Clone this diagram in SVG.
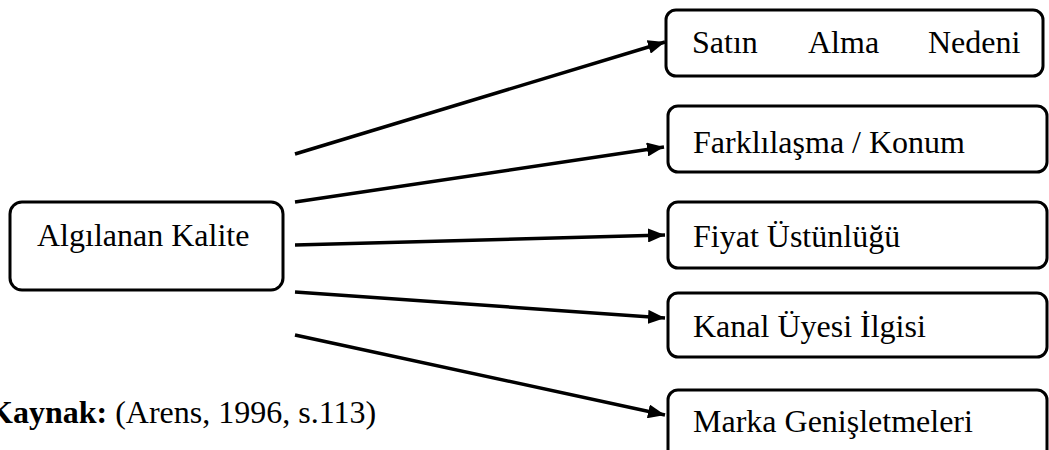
<svg xmlns="http://www.w3.org/2000/svg" width="1049" height="450" viewBox="0 0 1049 450">
  <style>
    .box { fill: #ffffff; stroke: #000000; stroke-width: 3; }
    .lbl { font-family: "Liberation Serif", "Times New Roman", serif; font-size: 32px; fill: #000000; }
    .edge { stroke: #000000; stroke-width: 3.5; fill: none; marker-end: url(#arrow); }
  </style>
  <defs>
    <marker id="arrow" markerUnits="userSpaceOnUse" markerWidth="18" markerHeight="14" refX="17" refY="7" orient="auto">
      <path d="M0,0 L17,7 L0,14 z" fill="#000000"/>
    </marker>
  </defs>
  <rect width="1049" height="450" fill="#ffffff"/>

  <!-- source node -->
  <g id="algilanan-kalite">
    <rect class="box" x="10" y="202" width="273" height="88" rx="12"/>
    <text class="lbl" x="37" y="246">Algılanan Kalite</text>
  </g>

  <!-- target nodes -->
  <g id="satin-alma-nedeni">
    <rect class="box" x="666" y="10" width="377" height="66" rx="10"/>
    <text class="lbl" y="53"><tspan x="692">Satın</tspan><tspan x="808">Alma</tspan><tspan x="928">Nedeni</tspan></text>
  </g>
  <g id="farklilasma-konum">
    <rect class="box" x="668" y="106" width="379" height="66" rx="10"/>
    <text class="lbl" x="693" y="153">Farklılaşma / Konum</text>
  </g>
  <g id="fiyat-ustunlugu">
    <rect class="box" x="668" y="202" width="379" height="66" rx="10"/>
    <text class="lbl" x="693" y="247">Fiyat Üstünlüğü</text>
  </g>
  <g id="kanal-uyesi-ilgisi">
    <rect class="box" x="668" y="293" width="379" height="64" rx="10"/>
    <text class="lbl" x="693" y="337">Kanal Üyesi İlgisi</text>
  </g>
  <g id="marka-genisletmeleri">
    <rect class="box" x="668" y="390" width="379" height="80" rx="10"/>
    <text class="lbl" x="693" y="432">Marka Genişletmeleri</text>
  </g>

  <!-- connectors -->
  <g id="connectors">
    <line class="edge" x1="295" y1="154" x2="665" y2="42"/>
    <line class="edge" x1="295" y1="202" x2="664" y2="147"/>
    <line class="edge" x1="295" y1="245" x2="665" y2="235"/>
    <line class="edge" x1="295" y1="292" x2="665" y2="318"/>
    <line class="edge" x1="295" y1="335" x2="665" y2="415"/>
  </g>

  <!-- source note -->
  <text class="lbl" x="-12" y="423"><tspan font-weight="bold">Kaynak:</tspan> (Arens, 1996, s.113)</text>
</svg>
